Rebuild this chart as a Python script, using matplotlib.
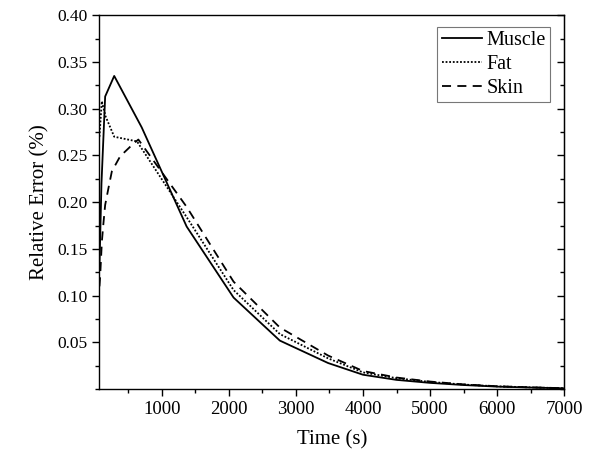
import matplotlib
matplotlib.use("Agg")
import matplotlib.pyplot as plt
from matplotlib.ticker import MultipleLocator, FixedLocator

plt.rcParams['font.family'] = ['Liberation Serif', 'DejaVu Serif']

# Data
t_muscle = [70, 100, 155, 290, 700, 1370, 2070, 2760, 3480, 4000, 4500, 5000, 5500, 6000, 6500, 7000]
v_muscle = [0.13, 0.22, 0.313, 0.335, 0.280, 0.174, 0.098, 0.052, 0.028, 0.0155, 0.010, 0.0068, 0.0045, 0.0028, 0.0018, 0.0010]

t_fat = [70, 105, 160, 290, 630, 1370, 2070, 2760, 3480, 4000, 4500, 5000, 5500, 6000, 6500, 7000]
v_fat = [0.27, 0.308, 0.292, 0.270, 0.265, 0.184, 0.106, 0.059, 0.033, 0.0180, 0.0118, 0.0078, 0.0050, 0.0031, 0.0020, 0.0011]

t_skin = [70, 80, 106, 130, 155, 204, 255, 378, 553, 650, 1370, 2070, 2760, 3480, 4000, 4500, 5000, 5500, 6000, 6500, 7000]
v_skin = [0.11, 0.12, 0.158, 0.178, 0.197, 0.215, 0.233, 0.249, 0.261, 0.267, 0.195, 0.115, 0.066, 0.036, 0.0195, 0.0125, 0.0082, 0.0052, 0.0032, 0.0020, 0.0011]

labels = ["Muscle", "Fat", "Skin"]
xticks = [1000, 2000, 3000, 4000, 5000, 6000, 7000]
yticks = [0.05, 0.10, 0.15, 0.20, 0.25, 0.30, 0.35, 0.40]

fig = plt.figure(figsize=(5.92, 4.59), dpi=100)
ax = fig.add_axes([0.168, 0.152, 0.785, 0.815])

ax.plot(t_muscle, v_muscle, color='black', lw=1.3, linestyle='-', label=labels[0])
ax.plot(t_fat, v_fat, color='black', lw=1.3, linestyle=(0, (1, 1)), label=labels[1])
ax.plot(t_skin, v_skin, color='black', lw=1.3, linestyle=(0, (5, 3.5)), label=labels[2])

ax.set_xlim(70, 7000)
ax.set_ylim(0, 0.40)
ax.xaxis.set_major_locator(FixedLocator(xticks))
ax.xaxis.set_minor_locator(MultipleLocator(500))
ax.yaxis.set_major_locator(FixedLocator(yticks))
ax.yaxis.set_minor_locator(MultipleLocator(0.025))
ax.set_xticklabels([str(x) for x in xticks])
ax.set_yticklabels([f"{y:.2f}" for y in yticks])

ax.tick_params(which='major', direction='out', length=5, width=1, colors='black')
ax.tick_params(which='minor', direction='out', length=3, width=1)
ax.tick_params(axis='x', labelsize=13.5)
ax.tick_params(axis='y', labelsize=12.5)
ax.tick_params(axis='y', which='both', right=False)

sec = ax.secondary_yaxis('right')
sec.yaxis.set_major_locator(FixedLocator(yticks))
sec.yaxis.set_minor_locator(MultipleLocator(0.025))
sec.tick_params(which='major', direction='in', length=5, width=1, labelright=False)
sec.tick_params(which='minor', direction='in', length=3, width=1)
sec.set_yticklabels([])

for s in ax.spines.values():
    s.set_linewidth(1.0)
    s.set_color('black')

ax.set_xlabel("Time (s)", fontsize=15, labelpad=9)
ax.set_ylabel("Relative Error (%)", fontsize=15, labelpad=6)

leg = ax.legend(loc='upper right', bbox_to_anchor=(0.97, 0.969), fontsize=14.5, frameon=True,
                fancybox=False, edgecolor='#555555', handlelength=2.0, handletextpad=0.25,
                borderpad=0.2, labelspacing=0.25, borderaxespad=0.0)
leg.get_frame().set_linewidth(0.8)

fig.savefig("out.png", dpi=100)
